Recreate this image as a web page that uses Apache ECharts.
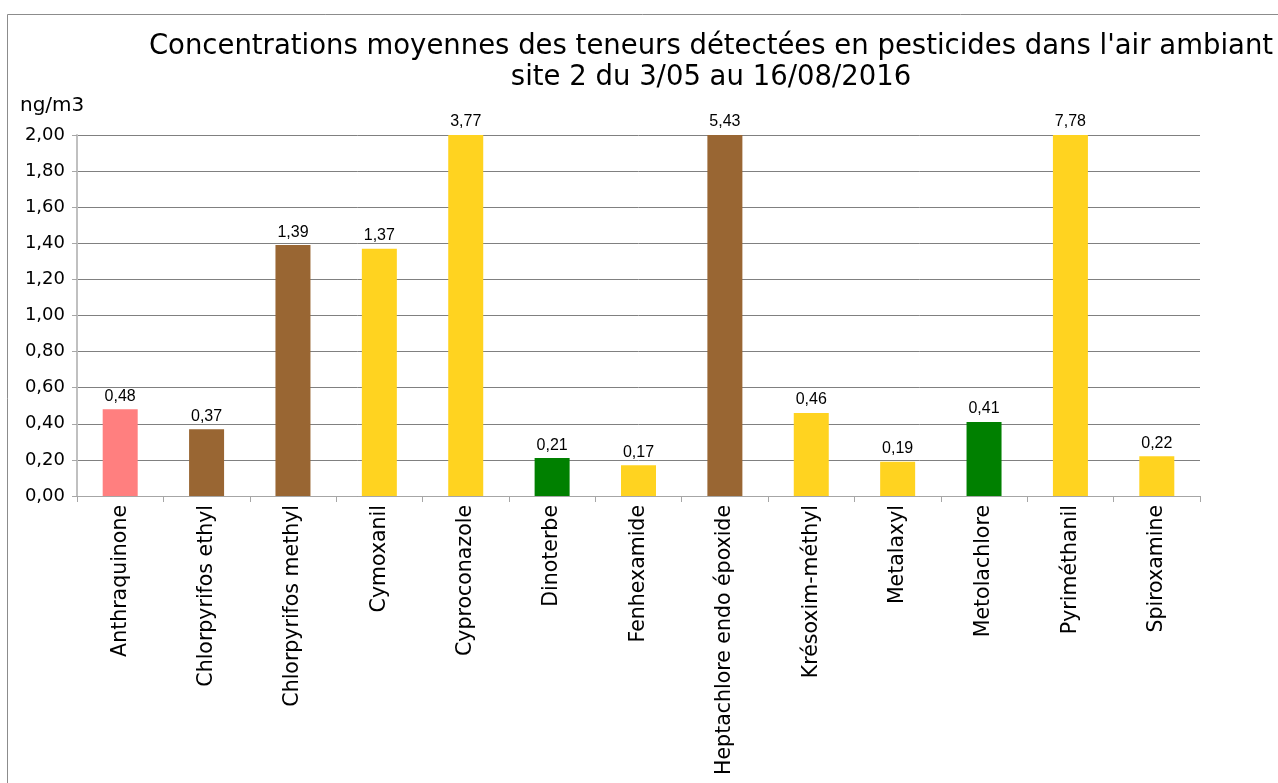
<!DOCTYPE html>
<html>
<head>
<meta charset="utf-8">
<script src="https://cdn.jsdelivr.net/npm/echarts@6/dist/echarts.min.js"></script>
<style>
  html, body { margin: 0; padding: 0; background: #fff; }
  #chart { width: 1278px; height: 783px; }
</style>
</head>
<body>
<div id="chart"></div>
<script>
// Pesticides measured at site 2, mean concentrations (ng/m3)
const categories = [
  'Anthraquinone', 'Chlorpyrifos ethyl', 'Chlorpyrifos methyl', 'Cymoxanil',
  'Cyproconazole', 'Dinoterbe', 'Fenhexamide', 'Heptachlore endo époxide',
  'Krésoxim-méthyl', 'Metalaxyl', 'Metolachlore', 'Pyriméthanil', 'Spiroxamine'
];
const values = [0.48, 0.37, 1.39, 1.37, 3.77, 0.21, 0.17, 5.43, 0.46, 0.19, 0.41, 7.78, 0.22];
// pesticide family of each compound, used to pick the bar colour
const families = [
  'other', 'insecticide', 'insecticide', 'fongicide', 'fongicide', 'herbicide', 'fongicide',
  'insecticide', 'fongicide', 'fongicide', 'herbicide', 'fongicide', 'fongicide'
];
const familyColors = {
  other: '#FF7F7F',
  insecticide: '#996633',
  fongicide: '#FFD320',
  herbicide: '#008000'
};
const yMin = 0, yMax = 2, yStep = 0.2;

const fr = v => v.toFixed(2).replace('.', ',');
const FONT = '"DejaVu Sans", sans-serif';
const NUMFONT = '"Liberation Sans", Arial, sans-serif';

const chart = echarts.init(document.getElementById('chart'), null, { renderer: 'canvas' });
chart.setOption({
  animation: false,
  backgroundColor: '#ffffff',
  title: {
    text: "Concentrations moyennes des teneurs détectées en pesticides dans l'air ambiant\nsite 2 du 3/05 au 16/08/2016",
    left: 706,
    top: 26,
    textAlign: 'center',
    textStyle: { fontFamily: FONT, fontSize: 27.5, fontWeight: 'normal', color: '#000', lineHeight: 31 }
  },
  graphic: [
    { type: 'polyline', shape: { points: [[7.5, 783], [7.5, 14.5], [1278, 14.5]] },
      style: { stroke: '#8c8c8c', lineWidth: 1, fill: null } },
    { type: 'text', left: 20, top: 96,
      style: { text: 'ng/m3', fontFamily: FONT, fontSize: 20, fill: '#000' } }
  ],
  grid: { left: 77, top: 135, right: 78, bottom: 287, containLabel: false, outerBoundsMode: 'none' },
  xAxis: {
    type: 'category',
    data: categories,
    axisLine: { lineStyle: { color: '#a6a6a6', width: 1 } },
    axisTick: { show: true, alignWithLabel: false, length: 6, lineStyle: { color: '#a6a6a6' } },
    axisLabel: { rotate: 90, interval: 0, margin: 9, fontFamily: FONT, fontSize: 20.5, color: '#000' }
  },
  yAxis: {
    type: 'value',
    min: yMin, max: yMax, interval: yStep,
    axisLine: { show: true, lineStyle: { color: '#c0c0c0', width: 2 } },
    axisTick: { show: true, length: 5, lineStyle: { color: '#a6a6a6' } },
    splitLine: { lineStyle: { color: '#808080', width: 1 } },
    axisLabel: { formatter: fr, margin: 12, fontFamily: FONT, fontSize: 18, color: '#000' }
  },
  series: [{
    type: 'bar',
    barWidth: 35,
    clip: true,
    data: values.map((v, i) => ({ value: v, itemStyle: { color: familyColors[families[i]] } })),
    label: {
      show: true, position: 'top', distance: 5,
      formatter: p => fr(p.value),
      fontFamily: NUMFONT, fontSize: 16, color: '#000'
    }
  }]
});
</script>
</body>
</html>
